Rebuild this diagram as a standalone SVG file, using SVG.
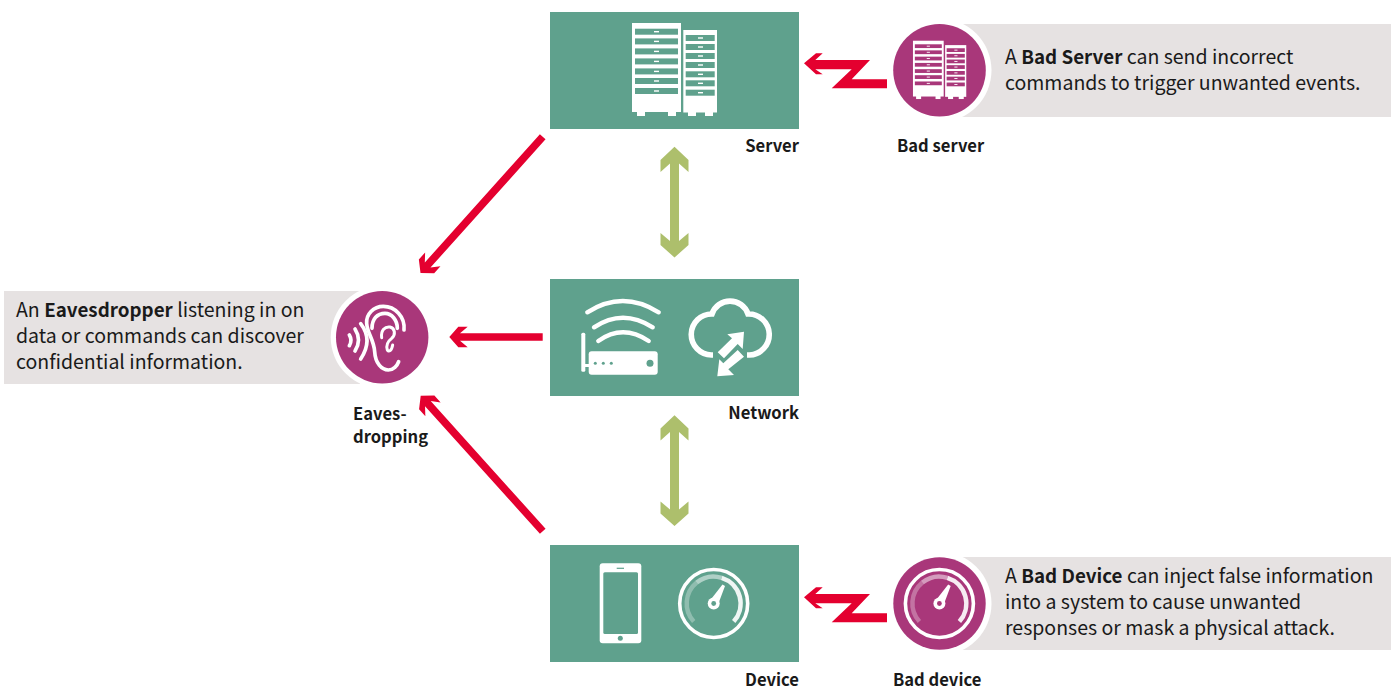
<svg xmlns="http://www.w3.org/2000/svg" xmlns:xlink="http://www.w3.org/1999/xlink" width="1397" height="687" viewBox="0 0 1397 687">
<style>
text{font-family:"Noto Sans CJK SC","Noto Sans","Liberation Sans",sans-serif;fill:#1a1a1a}
.t{font-size:19.5px}
.l{font-size:16.6px;font-weight:700}
.b{font-weight:700;font-size:18.8px}
.box{fill:#5fa18d}
.grey{fill:#e6e2e2}
.halo{fill:#fff}
.disc{fill:#a9377a}
.red{fill:#e4002f}
.grn{fill:#adbf6c}
.w{fill:#fff}
.ws{fill:none;stroke:#fff;stroke-linecap:round}
</style>
<defs>
<g id="rack">
<g class="w"><rect x="632" y="23" width="49" height="89"/><rect x="637" y="110" width="8" height="6"/><rect x="668" y="110" width="8" height="6"/><rect x="683.3" y="30" width="33.7" height="82.5"/><rect x="688" y="110" width="8" height="6"/><rect x="705" y="110" width="8" height="6"/></g>
<g fill="currentColor"><rect x="635" y="28.7" width="43" height="6"/><rect x="635" y="38.4" width="43" height="6"/><rect x="635" y="48.4" width="43" height="6"/><rect x="635" y="58.4" width="43" height="6"/><rect x="635" y="68.4" width="43" height="6"/><rect x="635" y="78" width="43" height="6"/><rect x="635" y="88" width="43" height="6"/>
<rect x="685.7" y="35" width="29" height="6"/><rect x="685.7" y="44" width="29" height="6"/><rect x="685.7" y="53" width="29" height="6"/><rect x="685.7" y="62" width="29" height="6"/><rect x="685.7" y="71.3" width="29" height="6"/><rect x="685.7" y="80.3" width="29" height="6"/><rect x="685.7" y="89.7" width="29" height="6"/></g>
<g class="w"><rect x="654" y="31" width="5" height="1.4"/><rect x="654" y="40.7" width="5" height="1.4"/><rect x="654" y="50.7" width="5" height="1.4"/><rect x="654" y="60.7" width="5" height="1.4"/><rect x="654" y="70.7" width="5" height="1.4"/><rect x="654" y="80.3" width="5" height="1.4"/><rect x="654" y="90.3" width="5" height="1.4"/>
<rect x="698" y="37.3" width="5" height="1.4"/><rect x="698" y="46.3" width="5" height="1.4"/><rect x="698" y="55.3" width="5" height="1.4"/><rect x="698" y="64.3" width="5" height="1.4"/><rect x="698" y="73.6" width="5" height="1.4"/><rect x="698" y="82.6" width="5" height="1.4"/><rect x="698" y="92" width="5" height="1.4"/></g>
</g>
<g id="gauge">
<circle cx="713.7" cy="603.5" r="34" fill="none" stroke="#fff" stroke-width="3.6"/>
<path d="M693.7 621.6A27 27 0 0 1 696.7 582.5" fill="none" stroke="#fff" stroke-width="4.5" opacity=".3"/>
<path d="M696.7 582.5A27 27 0 0 1 721.7 577.8" fill="none" stroke="#fff" stroke-width="4.5" opacity=".5"/>
<path d="M721.7 577.8A27 27 0 0 1 733.7 621.6" fill="none" stroke="#fff" stroke-width="4.5" opacity=".9"/>
<path d="M710 600.5L722.5 584.5L725 586L717.5 606Z" class="w"/>
<circle cx="713.7" cy="603.5" r="6" class="w"/><circle cx="713.7" cy="603.5" r="2.4" fill="currentColor"/>
</g>
<path id="zig" d="M804 63.3L816 53.3H822.7L815.3 60H870L851.7 79.3H887V88.3H831.7L851.7 69.3H815.3L822.7 74.3H816Z"/>
<path id="dbl" d="M674.5 146.7L688.5 160V172L679 163.5V241L688.5 233V245L674.5 257.5L660.5 245V233L670 241V163.5L660.5 172V160Z"/>
</defs>
<g id="connectors">
<path class="red" transform="translate(420.5,273) rotate(-48.1)" d="M0 0L9 -10.3H18.4L10.7 -3.8H183V3.8H10.7L18.4 10.3H9Z"/>
<path class="red" transform="translate(449.3,337)" d="M0 0L9 -10.3H18.4L10.7 -3.8H93.4V3.8H10.7L18.4 10.3H9Z"/>
<path class="red" transform="translate(420.7,395.7) rotate(48)" d="M0 0L9 -10.3H18.4L10.7 -3.8H182.4V3.8H10.7L18.4 10.3H9Z"/>
<use href="#dbl" class="grn"/>
<use href="#dbl" class="grn" y="268.5"/>
<use href="#zig" class="red"/>
<use href="#zig" class="red" y="534"/>
</g>
<g id="server"><rect class="box" x="550" y="12" width="249" height="117"/><use href="#rack" color="#5fa18d"/><text class="l" x="799" y="151.5" text-anchor="end">Server</text></g>
<g id="network"><rect class="box" x="550" y="279" width="249" height="117"/>
<path class="ws" stroke-width="4.4" d="M587.3 312.3Q622.7 289.7 658.7 312.3M594 327.3Q622.7 308 652.7 327.3M598.3 341Q622.7 323.6 648.7 341"/>
<rect class="w" x="581.3" y="332.7" width="4" height="39" rx="1.5"/><rect class="w" x="583" y="364" width="8" height="3"/>
<rect class="w" x="588.7" y="351.3" width="69" height="23.4" rx="3"/>
<circle cx="595.3" cy="363.3" r="1.5" class="box"/><circle cx="603.3" cy="363.3" r="1.5" class="box"/><circle cx="611.3" cy="363.3" r="1.5" class="box"/><circle cx="650" cy="363.3" r="3.5" class="box"/>
<path fill="none" stroke="#fff" stroke-width="5.6" d="M713 355H711.5A20.5 20.5 0 0 1 712 314A19 19 0 0 1 748 314A20.5 20.5 0 0 1 749.5 355H747"/>
<path class="w" d="M744 331.7L742.7 349L737.7 344L724 358.3L717.7 352.3L732 338.3L727.3 334.3Z"/>
<path class="w" d="M717.3 376.3L734 375L728.3 369.3L744 356.7L737.7 350L723.3 363.3L719.3 359.3Z"/>
<text class="l" x="799" y="418.5" text-anchor="end">Network</text></g>
<g id="device"><rect class="box" x="550" y="545" width="249" height="117"/>
<rect class="w" x="599.7" y="563.3" width="41.6" height="80" rx="3"/><rect class="box" x="603.3" y="572.3" width="34.7" height="61.7" rx="1.5"/><rect class="box" x="616.7" y="567.7" width="7.3" height="1.2"/><circle class="box" cx="620.3" cy="638.3" r="2.5"/>
<use href="#gauge" color="#5fa18d"/>
<text class="l" x="799" y="685.5" text-anchor="end">Device</text></g>
<g id="bad-server"><rect class="grey" x="960" y="24" width="431" height="93"/><circle class="halo" cx="939.5" cy="70.3" r="52"/><circle class="disc" cx="939.5" cy="70.3" r="46.3"/>
<use href="#rack" color="#a9377a" transform="translate(516.7,26.3) scale(.627)"/>
<text class="l" x="897" y="151.5">Bad server</text>
<text class="t" x="1005" y="64">A <tspan class="b">Bad Server</tspan> can send incorrect</text>
<text class="t" x="1005" y="90">commands to trigger unwanted events.</text></g>
<g id="bad-device"><rect class="grey" x="960" y="557" width="431" height="93"/><circle class="halo" cx="939.5" cy="603.5" r="52"/><circle class="disc" cx="939.5" cy="603.5" r="46.2"/>
<use href="#gauge" color="#a9377a" x="225.7"/>
<text class="l" x="893" y="685.5">Bad device</text>
<text class="t" x="1005" y="583">A <tspan class="b">Bad Device</tspan> can inject false information</text>
<text class="t" x="1005" y="609">into a system to cause unwanted</text>
<text class="t" x="1005" y="635">responses or mask a physical attack.</text></g>
<g id="eavesdropping"><rect class="grey" x="4" y="291" width="356" height="93"/><circle class="halo" cx="382.2" cy="337.2" r="51.5"/><circle class="disc" cx="382.2" cy="337.2" r="46.2"/>
<g transform="translate(340,295) scale(.3333)" fill="none" stroke="#fff" stroke-width="11" stroke-linecap="round">
<path d="M192 105C196 65 165 34 130 34C100 34 78 58 80 85C82 115 102 135 104 170C106 205 125 225 145 225C160 225 172 212 176 200"/>
<path d="M96 100C96 72 112 55 135 55C155 55 172 75 172 100"/>
<path d="M125 128C122 105 135 94 150 96C165 100 168 118 155 130C142 140 138 152 142 165C146 172 155 168 158 150" stroke-width="9"/>
<path d="M28 120Q38 136 28 152M45 102Q66 135 45 168M62 86Q100 135 62 192"/>
</g>
<text class="l" x="353" y="419.5">Eaves-</text><text class="l" x="353" y="442.5">dropping</text>
<text class="t" x="16" y="317">An <tspan class="b">Eavesdropper</tspan> listening in on</text>
<text class="t" x="16" y="343">data or commands can discover</text>
<text class="t" x="16" y="369">confidential information.</text></g>
</svg>
